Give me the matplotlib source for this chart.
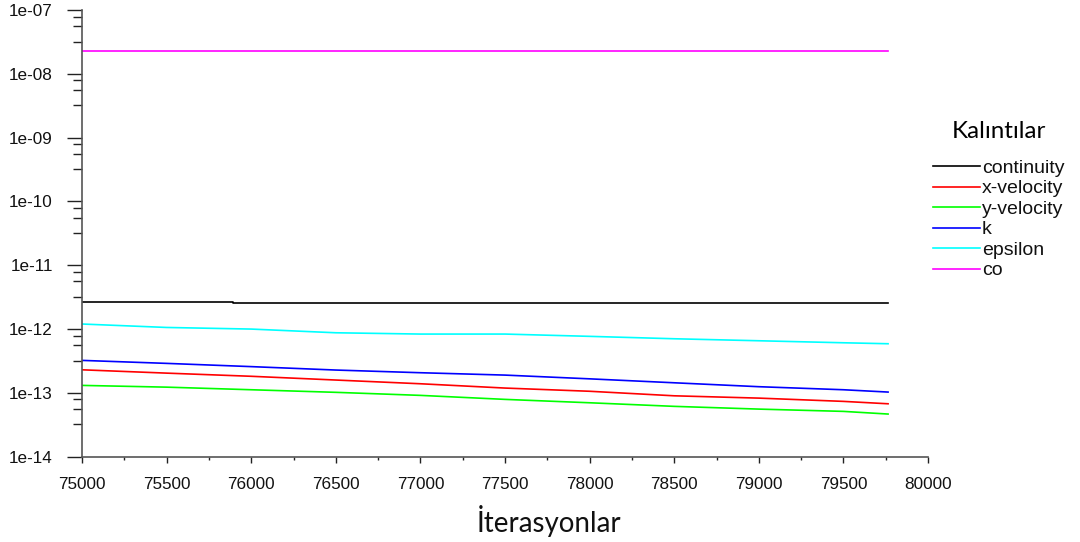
import matplotlib
matplotlib.use("Agg")
import matplotlib.pyplot as plt
from matplotlib.ticker import FixedLocator, NullFormatter, FuncFormatter
from matplotlib.lines import Line2D
import numpy as np

# Iterations at which the residuals are sampled
iterations = [75000, 75500, 76000, 76500, 77000, 77500, 78000, 78500, 79000, 79500, 79764]

continuity_iter = [75000, 75890, 75890, 79764]
continuity = [2.62e-12, 2.62e-12, 2.53e-12, 2.53e-12]

x_velocity = [2.30e-13, 2.04e-13, 1.82e-13, 1.59e-13, 1.39e-13, 1.19e-13,
              1.06e-13, 9.0e-14, 8.28e-14, 7.36e-14, 6.75e-14]
y_velocity = [1.31e-13, 1.23e-13, 1.12e-13, 1.02e-13, 9.14e-14, 7.91e-14,
              7.0e-14, 6.15e-14, 5.57e-14, 5.13e-14, 4.66e-14]
k_res = [3.23e-13, 2.90e-13, 2.58e-13, 2.28e-13, 2.07e-13, 1.90e-13,
         1.66e-13, 1.44e-13, 1.25e-13, 1.12e-13, 1.03e-13]
epsilon = [1.20e-12, 1.06e-12, 1.0e-12, 8.75e-13, 8.35e-13, 8.35e-13,
           7.69e-13, 7.05e-13, 6.56e-13, 6.10e-13, 5.89e-13]
co_iter = [75000, 79764]
co = [2.28e-8, 2.28e-8]

labels = ["continuity", "x-velocity", "y-velocity", "k", "epsilon", "co"]
colors = ["#000000", "#ff0000", "#00ff00", "#0000ff", "#00ffff", "#ff00ff"]

x_ticks = [75000, 75500, 76000, 76500, 77000, 77500, 78000, 78500, 79000, 79500, 80000]
y_ticks = [1e-14, 1e-13, 1e-12, 1e-11, 1e-10, 1e-9, 1e-8, 1e-7]

fig = plt.figure(figsize=(10.8, 5.42), dpi=100)
ax = fig.add_axes([82 / 1080, 1 - 456.7 / 542, (928 - 82) / 1080, (456.7 - 10) / 542])

series = [(continuity_iter, continuity), (iterations, x_velocity), (iterations, y_velocity),
          (iterations, k_res), (iterations, epsilon), (co_iter, co)]
for (xs, ys), c in zip(series, colors):
    ax.plot(xs, ys, color=c, lw=1.2)

ax.set_yscale("log")
ax.set_xlim(75000, 80000)
ax.set_ylim(1e-14, 1e-7)

tick_font = dict(family=["Liberation Sans", "DejaVu Sans"], size=12.3)
ax.set_xticks(x_ticks)
ax.set_xticklabels([str(v) for v in x_ticks], **tick_font)
ax.xaxis.set_minor_locator(FixedLocator(np.arange(75250, 80000, 500)))
ax.yaxis.set_major_locator(FixedLocator(y_ticks))
ax.yaxis.set_major_formatter(FuncFormatter(lambda v, p: "1e-%02d" % round(-np.log10(v))))
minor_y = [m * 10.0 ** e for e in range(-14, -7) for m in (3.2, 5.6, 7.9)]
ax.yaxis.set_minor_locator(FixedLocator(minor_y))
ax.yaxis.set_minor_formatter(NullFormatter())
for lab in ax.get_yticklabels():
    lab.set_fontfamily(["Liberation Sans", "DejaVu Sans"])
    lab.set_fontsize(12.3)

for s in ("top", "right"):
    ax.spines[s].set_visible(False)
for s in ("left", "bottom"):
    ax.spines[s].set_color("#555555")
    ax.spines[s].set_linewidth(1.2)

ax.tick_params(axis="y", which="major", length=11, width=1.0, color="#222222", pad=10, labelcolor="#111111")
ax.tick_params(axis="y", which="minor", length=6.5, width=1.0, color="#222222")
ax.tick_params(axis="x", which="major", length=4.5, width=1.0, color="#222222", pad=10, labelcolor="#111111")
ax.tick_params(axis="x", which="minor", length=2.5, width=1.0, color="#222222")

fig.text(549 / 1080, 1 - 531.7 / 542, "İterasyonlar", ha="center", va="baseline",
         fontsize=20, family=["Lato", "DejaVu Sans"], color="#111111")

handles = [Line2D([], [], color=c, lw=1.2) for c in colors]
leg = fig.legend(handles, labels, loc="upper left", bbox_to_anchor=(933 / 1080, 1 - 121.5 / 542),
                 frameon=False, prop=dict(family=["Liberation Sans", "DejaVu Sans"], size=14),
                 title="Kalıntılar", title_fontproperties=dict(family=["Lato", "DejaVu Sans"], size=17.4),
                 handlelength=2.42, handletextpad=0.1, labelspacing=0.15, borderpad=0.0,
                 borderaxespad=0.0)
leg._legend_box.sep = 12
for t in leg.get_texts():
    t.set_color("#111111")

fig.savefig("out.png", dpi=100)
